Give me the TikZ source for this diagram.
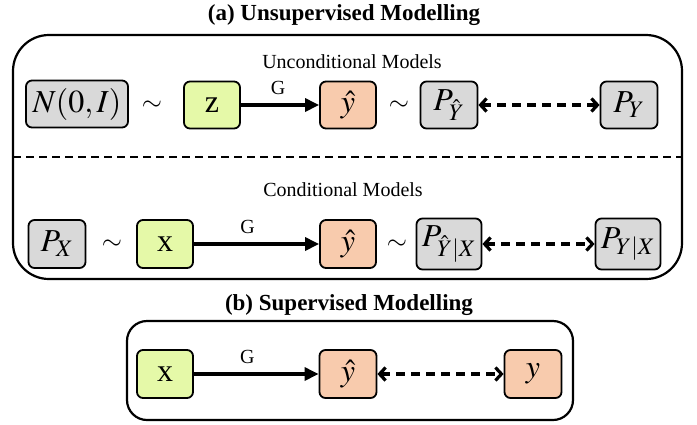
\documentclass[tikz,border=0pt]{standalone}
\usepackage{mathptmx}
\usepackage{fontspec}
\setmainfont{Liberation Serif}
\usetikzlibrary{arrows.meta}
\definecolor{boxgray}{HTML}{D9D9D9}
\definecolor{boxgreen}{HTML}{E5F9A8}
\definecolor{boxorange}{HTML}{F8CBAD}
\begin{document}
\begin{tikzpicture}[x=1pt,y=-1pt,
  box/.style={draw, line width=1.8pt, rounded corners=6pt, inner sep=0pt,
    minimum height=47pt, font=\fontsize{32}{32}\selectfont},
  gry/.style={box, fill=boxgray},
  grn/.style={box, fill=boxgreen},
  org/.style={box, fill=boxorange},
  simlbl/.style={inner sep=0pt, font=\fontsize{26}{26}\selectfont},
  lbl/.style={inner sep=0pt, font=\fontsize{20}{20}\selectfont},
  ttl/.style={inner sep=0pt, font=\fontsize{23}{23}\selectfont\bfseries},
  gen/.style={line width=3.2pt, -{Triangle[length=14pt,width=13pt]}},
  cmp/.style={line width=3.2pt, dash pattern=on 9pt off 6pt,
    {Straight Barb[length=6pt,width=13pt]}-{Straight Barb[length=6pt,width=13pt]}},
  frame/.style={draw, line width=2.2pt}
]
\useasboundingbox (0,0) rectangle (697,424);

% (a)
\node[ttl] (ta) at (344,15) {(a) Unsupervised Modelling};
\draw[frame, rounded corners=36pt] (13,35) rectangle (682,279);
\draw[line width=2.4pt, dash pattern=on 8pt off 5pt] (13,157) -- (682,157);
\node[lbl] (tu) at (352,62) {Unconditional Models};
\node[lbl] (tc) at (343,190) {Conditional Models};

\node[gry, minimum width=102pt] (n) at (77,104) {$N(0,I)$};
\node[simlbl] (s1) at (152,106) {$\sim$};
\node[grn, minimum width=56pt] (z) at (212,105) {z};
\node[org, minimum width=56pt] (yh1) at (348,105) {$\hat{y}$};
\node[simlbl] (s2) at (399,106) {$\sim$};
\node[gry, minimum width=57pt] (py1) at (449,105) {$P_{\hat{Y}}$};
\node[gry, minimum width=57pt] (py2) at (629,105) {$P_Y$};
\draw[gen] (z) -- node[lbl, above=9pt, xshift=-2pt] {G} (yh1);
\draw[cmp] (py1) -- (py2);

\node[gry, minimum width=57pt, minimum height=48pt] (px) at (57,244) {$P_X$};
\node[simlbl] (s3) at (112,245) {$\sim$};
\node[grn, minimum width=56pt, minimum height=48pt] (x1) at (165,244) {x};
\node[org, minimum width=56pt, minimum height=48pt] (yh2) at (348,244) {$\hat{y}$};
\node[simlbl] (s4) at (397,245) {$\sim$};
\node[gry, minimum width=65pt, minimum height=51pt] (pyx1) at (449,244) {$P_{\hat{Y}|X}$};
\node[gry, minimum width=65pt, minimum height=51pt] (pyx2) at (628,244) {$P_{Y|X}$};
\draw[gen] (x1) -- node[lbl, above=9pt, xshift=-9pt] {G} (yh2);
\draw[cmp] (pyx1) -- (pyx2);

% (b)
\node[ttl] (tb) at (349,305) {(b) Supervised Modelling};
\draw[frame, rounded corners=20pt] (127,321) rectangle (573,420);
\node[grn, minimum width=56pt, minimum height=48pt] (xb) at (165,374) {x};
\node[org, minimum width=57pt, minimum height=48pt] (yhb) at (348,374) {$\hat{y}$};
\node[org, minimum width=57pt, minimum height=48pt] (yb) at (533,374) {$y$};
\draw[gen] (xb) -- node[lbl, above=9pt, xshift=-9pt] {G} (yhb);
\draw[cmp] (yhb) -- (yb);
\end{tikzpicture}
\end{document}
